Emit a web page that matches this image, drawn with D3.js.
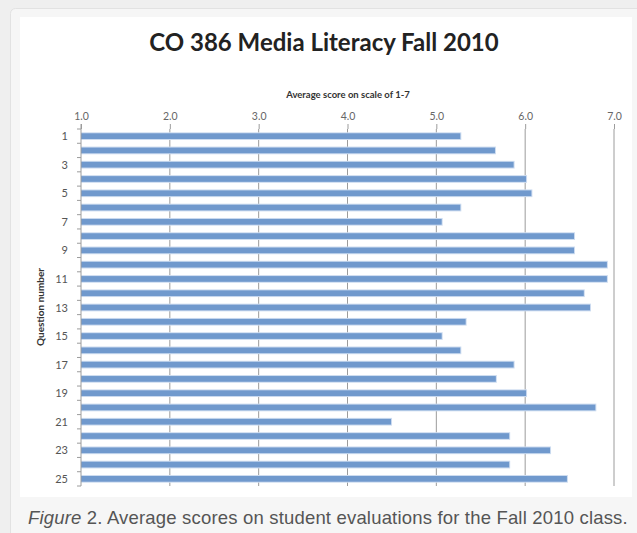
<!DOCTYPE html>
<html>
<head>
<meta charset="utf-8">
<script src="https://cdn.jsdelivr.net/npm/d3@7"></script>
<style>
  body { margin: 0; background: #efefef; }
  svg { display: block; }
</style>
</head>
<body>
<svg id="chart"></svg>
<script>
// question numbers and their average scores (scale 1-7)
var questions = d3.range(1, 26);
var scores = [5.27, 5.66, 5.87, 6.01, 6.07, 5.27, 5.06, 6.55, 6.55, 6.92,
              6.92, 6.66, 6.73, 5.33, 5.06, 5.27, 5.87, 5.67, 6.01, 6.79,
              4.49, 5.82, 6.28, 5.82, 6.47];
var xTicks = [1, 2, 3, 4, 5, 6, 7];
var yLabels = [1, 3, 5, 7, 9, 11, 13, 15, 17, 19, 21, 23, 25];

var W = 637, H = 533;
var svg = d3.select("#chart").attr("width", W).attr("height", H);

// card + image background
svg.append("rect").attr("x", 10.5).attr("y", 8.5).attr("width", 640).attr("height", 540)
  .attr("rx", 5).attr("fill", "#f6f6f6").attr("stroke", "#e2e2e2");
svg.append("rect").attr("x", 20).attr("y", 17).attr("width", 612).attr("height", 480)
  .attr("fill", "#fff");

var x = d3.scaleLinear().domain([1, 7]).range([81, 614]);
var y = d3.scaleBand().domain(questions).range([129, 486]).paddingInner(0.6).paddingOuter(0.3);

var font = "Lato, 'Open Sans', sans-serif";

// title
svg.append("text").attr("x", 324).attr("y", 51).attr("text-anchor", "middle")
  .attr("font-family", font).attr("font-weight", "bold").attr("font-size", 24)
  .attr("fill", "#222").text("CO 386 Media Literacy Fall 2010");

svg.append("text").attr("x", 348).attr("y", 98).attr("text-anchor", "middle")
  .attr("font-family", font).attr("font-weight", "bold").attr("font-size", 9.5)
  .attr("fill", "#333").text("Average score on scale of 1-7");

// gridlines
svg.append("g").selectAll("line").data(xTicks.slice(1)).join("line")
  .attr("x1", d => x(d)).attr("x2", d => x(d))
  .attr("y1", 129).attr("y2", 486)
  .attr("stroke", "#9c9c9c").attr("stroke-width", 1);

// top axis
var topAxis = svg.append("g").attr("transform", "translate(0,129)")
  .call(d3.axisTop(x).tickValues(xTicks).tickFormat(d3.format(".1f")).tickSize(5).tickPadding(4));
topAxis.select(".domain").remove();
topAxis.selectAll("line").attr("stroke", "#9c9c9c");
topAxis.selectAll("text").attr("font-family", font).attr("font-size", 10.5).attr("fill", "#666");

// bars
var bars = svg.append("g");
bars.selectAll("rect.halo").data(scores).join("rect").attr("class", "halo")
  .attr("x", x(1))
  .attr("y", (d, i) => y(questions[i]) - 1)
  .attr("width", d => x(d) - x(1) + 1)
  .attr("height", y.bandwidth() + 2)
  .attr("fill", "#cddcf0");
bars.selectAll("rect.bar").data(scores).join("rect").attr("class", "bar")
  .attr("x", x(1))
  .attr("y", (d, i) => y(questions[i]))
  .attr("width", d => x(d) - x(1))
  .attr("height", y.bandwidth())
  .attr("fill", "#7099cd");

// left axis line and minor ticks at band edges
svg.append("line").attr("x1", x(1)).attr("x2", x(1)).attr("y1", 124).attr("y2", 486)
  .attr("stroke", "#9c9c9c");
var edges = d3.range(0, 26).map(i => 129 + i * y.step());
svg.append("g").selectAll("line").data(edges).join("line")
  .attr("x1", x(1) - 4).attr("x2", x(1))
  .attr("y1", d => d).attr("y2", d => d)
  .attr("stroke", "#9c9c9c");

// y labels (odd questions)
svg.append("g").selectAll("text").data(yLabels).join("text")
  .attr("x", 68).attr("y", d => y(d) + y.bandwidth() / 2 + 4)
  .attr("text-anchor", "end")
  .attr("font-family", font).attr("font-size", 11).attr("fill", "#555")
  .text(d => d);

svg.append("text").attr("transform", "translate(44,307) rotate(-90)")
  .attr("text-anchor", "middle")
  .attr("font-family", font).attr("font-weight", "bold").attr("font-size", 10)
  .attr("fill", "#333").text("Question number");

// caption
var cap = svg.append("text").attr("x", 28).attr("y", 524)
  .attr("font-family", "'Liberation Sans', Arial, sans-serif").attr("font-size", 18.5)
  .attr("letter-spacing", 0.18)
  .attr("fill", "#555");
cap.append("tspan").attr("font-style", "italic").text("Figure");
cap.append("tspan").text(" 2. Average scores on student evaluations for the Fall 2010 class.");
</script>
</body>
</html>
